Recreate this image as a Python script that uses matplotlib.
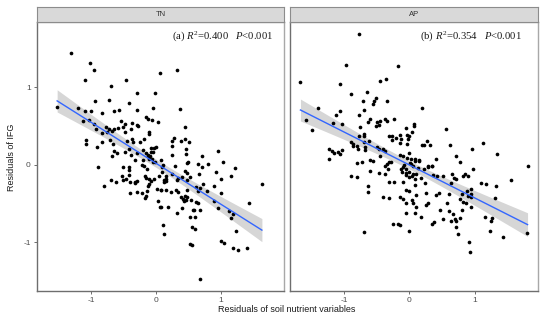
import numpy as np
import matplotlib
matplotlib.use("Agg")
import matplotlib.pyplot as plt
from matplotlib.patches import Rectangle

plt.rcParams['font.family'] = ['Liberation Sans', 'DejaVu Sans']
plt.rcParams['mathtext.fontset'] = 'custom'
plt.rcParams['mathtext.rm'] = 'Liberation Serif'
plt.rcParams['mathtext.it'] = 'Liberation Serif:italic'

panels = ["TN", "AP"]
labels = ["(a) $R^{2}$=0.400   $P$<0.001", "(b) $R^{2}$=0.354   $P$<0.001"]
x_ticks = [-1, 0, 1]
y_ticks = [-1, 0, 1]

tn_x = [-1.31, -1.02, -0.95, -1.09, 0.06, 0.32, -0.69, -0.46, -0.29, -0.02,
        -0.94, -0.72, -0.42, -1.52, -1.20, -1.09, -1.00, -0.83, -0.64, -0.57,
        -0.29, -0.05, 0.37, -1.12, -1.03, -0.96, -0.54, -0.48, -0.37, -0.29,
        -0.27, -0.16, -0.13, -0.06, 0.03, 0.45, -0.92, -0.83, -0.77, -0.72,
        -0.76, -0.67, -0.64, -0.58, -0.51, -0.48, -0.38, -0.11, -0.11, -0.19,
        -0.37, -0.35, -0.25, -0.45, -0.71, -1.07, -1.08, -0.91, -0.83, -0.66,
        -0.64, -0.60, -0.67, -0.47, -0.42, -0.38, -0.32, -0.20, -0.29, -0.07,
        -0.03, 0.00, -0.08, -0.05, 0.08, -0.20, 0.27, 0.24, 0.24, 0.24,
        0.38, 0.44, 0.51, 0.46, 0.46, 0.71, 0.95, 1.03, 0.47, 0.50,
        0.65, 0.80, -0.89, -0.50, -0.41, -0.42, -0.22, -0.18, -0.14, -0.42,
        -0.80, -0.69, -0.62, -0.51, -0.46, -0.40, -0.32, -0.29, -0.32, -0.17,
        -0.15, -0.10, -0.08, -0.11, -0.13, -0.03, 0.04, 0.13, -0.40, -0.29,
        -0.22, -0.14, -0.15, -0.17, 0.01, 0.07, 0.03, 0.06, 0.08, 0.11,
        0.12, 0.29, 0.71, 1.22, 0.10, 0.10, 0.15, 0.16, 0.15, 0.13,
        0.25, 0.32, 0.34, 0.40, 0.44, 0.47, 0.52, 0.48, 0.66, 0.92,
        0.73, 0.90, 1.00, 1.16, 1.63, 0.08, 0.16, 0.23, 0.31, 0.34,
        0.39, 0.44, 0.47, 0.42, 0.43, 0.46, 0.54, 0.61, 0.67, 0.64,
        0.47, 0.78, 1.00, 0.61, 0.64, 0.90, 0.96, 1.43, 0.18, 0.32,
        0.40, 0.58, 0.57, 0.67, 1.13, 1.18, 1.15, 0.52, 0.60, 0.55,
        0.60, 1.23, 1.00, 1.05, 0.53, 0.55, 1.18, 1.26, 1.40, 0.68,
        -0.02, -0.04, -0.11, -0.09, -0.13, -0.15, -0.12, -0.06, -0.52, 0.11]
tn_y = [1.45, 1.32, 1.22, 1.10, 1.18, 1.22, 1.02, 1.09, 0.93, 0.93,
        0.82, 0.84, 0.80, 0.75, 0.74, 0.69, 0.69, 0.67, 0.69, 0.71,
        0.71, 0.74, 0.72, 0.56, 0.58, 0.53, 0.57, 0.53, 0.54, 0.52,
        0.50, 0.62, 0.59, 0.58, 0.55, 0.49, 0.46, 0.41, 0.49, 0.46,
        0.43, 0.44, 0.46, 0.47, 0.49, 0.43, 0.46, 0.42, 0.40, 0.33,
        0.34, 0.30, 0.30, 0.31, 0.32, 0.32, 0.27, 0.23, 0.29, 0.27,
        0.18, 0.15, 0.11, 0.16, 0.20, 0.13, 0.06, 0.19, 0.15, 0.22,
        0.22, 0.23, 0.17, 0.17, 0.06, 0.06, 0.35, 0.31, 0.24, 0.13,
        0.31, 0.33, 0.30, 0.21, 0.14, 0.12, 0.18, 0.04, 0.02, 0.03,
        0.01, 0.01, -0.03, -0.03, -0.03, -0.07, 0.00, -0.02, -0.05, -0.13,
        -0.27, -0.19, -0.22, -0.20, -0.18, -0.22, -0.22, -0.21, -0.24, -0.14,
        -0.17, -0.18, -0.21, -0.25, -0.27, -0.18, -0.15, -0.19, -0.36, -0.35,
        -0.36, -0.34, -0.40, -0.43, -0.31, -0.33, -0.47, -0.55, -0.55, -0.78,
        -0.89, -0.01, -0.03, -0.04, -0.03, -0.09, -0.14, -0.18, -0.21, -0.22,
        -0.12, -0.19, -0.17, -0.16, -0.08, -0.10, -0.16, -0.19, -0.12, -0.09,
        -0.25, -0.27, -0.18, -0.14, -0.25, -0.33, -0.33, -0.35, -0.32, -0.35,
        -0.41, -0.40, -0.41, -0.44, -0.47, -0.46, -0.45, -0.29, -0.30, -0.34,
        -0.33, -0.34, -0.37, -0.48, -0.49, -0.47, -0.56, -0.49, -0.54, -0.62,
        -0.56, -0.59, -0.58, -0.59, -0.60, -0.63, -0.69, -0.67, -0.68, -0.80,
        -0.83, -0.85, -0.98, -1.01, -1.02, -1.03, -1.07, -1.10, -1.08, -1.47,
        0.04, 0.03, 0.08, 0.11, 0.12, 0.15, 0.13, 0.08, -0.14, 0.00]

ap_x = [-0.78, -0.97, -0.18, -1.67, -1.07, -0.45, -0.36, -0.90, -0.65, -0.71,
        -0.51, -0.54, -0.56, -0.35, 0.19, -1.40, -1.07, -1.12, -0.69, -0.77,
        -0.60, -0.64, -0.49, -0.45, -0.47, -0.51, -0.37, -0.34, -0.24, -1.58,
        -1.17, -1.03, -1.50, -0.75, -0.77, -0.70, -0.69, -0.62, -0.89, -0.86,
        -0.87, -0.80, -0.79, -0.70, -0.68, -0.68, -0.50, -0.46, -0.40, -0.38,
        -0.32, -0.26, -0.21, -0.26, -0.14, -0.13, -0.15, -0.03, -0.02, -0.04,
        -0.05, 0.07, 0.07, 0.19, 0.22, 0.27, 0.31, 0.56, 0.62, 0.96,
        1.12, 1.34, 0.72, 0.78, 1.81, 0.41, 0.28, 0.34, -0.15, -0.10,
        -0.04, 0.02, -0.45, -1.23, -1.07, -1.03, -1.15, -0.80, -0.73, -0.60,
        -0.56, -0.35, -0.31, 0.01, 0.06, 0.13, 0.04, -0.01, -0.01, 0.09,
        0.15, -0.89, -0.80, -0.60, -0.46, -0.37, -0.38, -0.33, -0.64, -0.63,
        -0.40, -0.32, -0.32, -0.23, -0.10, -0.28, -0.13, -0.10, -0.08, -0.06,
        -0.11, -0.06, -0.14, -0.10, -0.06, -0.05, -0.69, -0.25, -0.18, -0.15,
        0.00, 0.00, 0.03, 0.08, 0.15, 0.28, 0.35, 0.98, -0.06, 0.00,
        0.05, 0.04, 0.10, -0.06, 0.08, 0.17, 0.22, 0.36, 0.43, 0.52,
        0.65, 0.69, 0.72, 0.82, 0.85, 0.90, 0.63, 0.24, 0.08, 1.10,
        1.17, 1.32, 1.55, 0.94, 0.88, 0.94, 0.89, 0.94, 0.80, 0.78,
        0.82, 0.26, 0.41, 0.45, 0.60, 0.10, 0.00, 0.04, 0.06, 0.10,
        0.25, 0.29, 0.57, 0.86, 0.94, 0.80, 0.47, 0.60, 0.67, 0.77,
        0.09, 0.18, 0.52, 0.64, 0.70, 0.71, 0.38, 0.35, 0.71, 1.16,
        1.26, 1.25, 0.74, 1.23, 1.44, 1.80, 0.91, 0.93, 1.31, -1.18,
        -1.09, -1.23]
ap_y = [1.69, 1.29, 1.28, 1.07, 1.04, 1.08, 1.11, 0.91, 0.94, 0.83,
        0.86, 0.82, 0.78, 0.82, 0.74, 0.73, 0.70, 0.65, 0.71, 0.65,
        0.59, 0.55, 0.55, 0.57, 0.51, 0.50, 0.59, 0.57, 0.59, 0.58,
        0.54, 0.53, 0.45, 0.49, 0.37, 0.40, 0.37, 0.31, 0.29, 0.27,
        0.24, 0.24, 0.21, 0.29, 0.23, 0.19, 0.23, 0.21, 0.20, 0.18,
        0.37, 0.37, 0.35, 0.32, 0.38, 0.34, 0.28, 0.39, 0.34, 0.27,
        0.48, 0.53, 0.50, 0.26, 0.25, 0.31, 0.25, 0.46, 0.26, 0.20,
        0.28, 0.14, 0.11, 0.03, -0.01, 0.08, -0.02, -0.01, 0.13, 0.11,
        0.09, 0.07, 0.12, 0.21, 0.14, 0.19, 0.15, 0.02, 0.03, 0.06,
        0.05, 0.01, 0.04, 0.02, -0.02, -0.04, 0.43, 0.37, 0.15, 0.07,
        0.06, -0.15, -0.16, -0.08, -0.10, -0.12, -0.01, -0.06, -0.28, -0.35,
        -0.42, -0.43, -0.22, -0.22, -0.22, 0.03, -0.06, -0.03, 0.00, -0.11,
        -0.09, -0.33, -0.41, -0.44, -0.49, -0.62, -0.87, -0.76, -0.77, -0.78,
        -0.86, -0.16, 0.01, 0.05, 0.05, -0.03, -0.02, -0.06, -0.05, -0.09,
        -0.12, -0.14, -0.12, -0.13, -0.18, -0.17, -0.06, -0.13, -0.14, -0.14,
        -0.12, -0.17, -0.18, -0.14, -0.12, -0.15, -0.23, -0.23, -0.26, -0.24,
        -0.25, -0.27, -0.19, -0.31, -0.34, -0.38, -0.40, -0.42, -0.38, -0.44,
        -0.48, -0.36, -0.39, -0.37, -0.38, -0.39, -0.34, -0.45, -0.49, -0.54,
        -0.52, -0.49, -0.49, -0.49, -0.55, -0.58, -0.58, -0.60, -0.64, -0.69,
        -0.62, -0.67, -0.70, -0.73, -0.70, -0.72, -0.74, -0.77, -0.80, -0.67,
        -0.69, -0.73, -0.90, -0.86, -0.93, -0.88, -1.00, -1.13, -0.43, 0.18,
        0.16, 0.08]

data = [(tn_x, tn_y), (ap_x, ap_y)]

W, H = 554, 333
fig = plt.figure(figsize=(W / 100, H / 100), dpi=100)

def fx(px):
    return px / W

def fy(py):
    return 1 - py / H

panel_lr = [(37, 284), (290, 538)]
plot_top, plot_bot, strip_top = 22, 291, 7
text_x = [0.547, 0.524]

for i, (name, (xs, ys)) in enumerate(zip(panels, data)):
    l, r = panel_lr[i]
    ax = fig.add_axes([fx(l), fy(plot_bot), fx(r) - fx(l), fy(plot_top) - fy(plot_bot)])
    xs = np.asarray(xs)
    ys = np.asarray(ys)
    # linear fit with 95% CI
    n = len(xs)
    b, a = np.polyfit(xs, ys, 1)
    xg = np.linspace(xs.min(), xs.max(), 100)
    yg = a + b * xg
    resid = ys - (a + b * xs)
    s = np.sqrt(np.sum(resid ** 2) / (n - 2))
    sxx = np.sum((xs - xs.mean()) ** 2)
    se = s * np.sqrt(1 / n + (xg - xs.mean()) ** 2 / sxx)
    t = 1.972
    ax.fill_between(xg, yg - t * se, yg + t * se, color='#999999', alpha=0.4, lw=0, zorder=1)
    ax.scatter(xs, ys, s=7, color='black', lw=0, zorder=2)
    ax.plot(xg, yg, color='#3366FF', lw=1.0, zorder=3)

    ax.set_xlim(-1.83, 1.97)
    ax.set_ylim(-1.63, 1.845)
    ax.set_xticks(x_ticks)
    ax.set_xticklabels([str(v) for v in x_ticks])
    if i == 0:
        ax.set_yticks(y_ticks)
        ax.set_yticklabels([str(v) for v in y_ticks])
    else:
        ax.set_yticks([])
    ax.tick_params(length=2.5, width=0.6, color='#555555', labelsize=6,
                   labelcolor='#4D4D4D', pad=2)
    for side in ['left', 'bottom']:
        ax.spines[side].set_color('#6E6E6E')
        ax.spines[side].set_linewidth(1.0)
    for side in ['top', 'right']:
        ax.spines[side].set_color('#A8A8A8')
        ax.spines[side].set_linewidth(1.0)

    ax.text(text_x[i], 0.948, labels[i], transform=ax.transAxes, ha='left', va='center',
            fontsize=7.7, family='Liberation Serif', color='#1A1A1A')

    # strip
    sax = fig.add_axes([fx(l), fy(plot_top), fx(r) - fx(l), fy(strip_top) - fy(plot_top)])
    sax.set_facecolor('#D9D9D9')
    sax.set_xticks([])
    sax.set_yticks([])
    for sp in sax.spines.values():
        sp.set_color('#8C8C8C')
        sp.set_linewidth(0.8)
    sax.text(0.5, 0.5, name, ha='center', va='center', fontsize=5.5, color='#333333',
             transform=sax.transAxes)

fig.text(fx(12), fy(157), "Residuals of IFG", rotation=90, ha='center', va='center',
         fontsize=6.5, color='#1A1A1A')
fig.text(fx(287), fy(309), "Residuals of soil nutrient variables", ha='center', va='center',
         fontsize=6.5, color='#1A1A1A')

fig.savefig("out.png", dpi=100)
